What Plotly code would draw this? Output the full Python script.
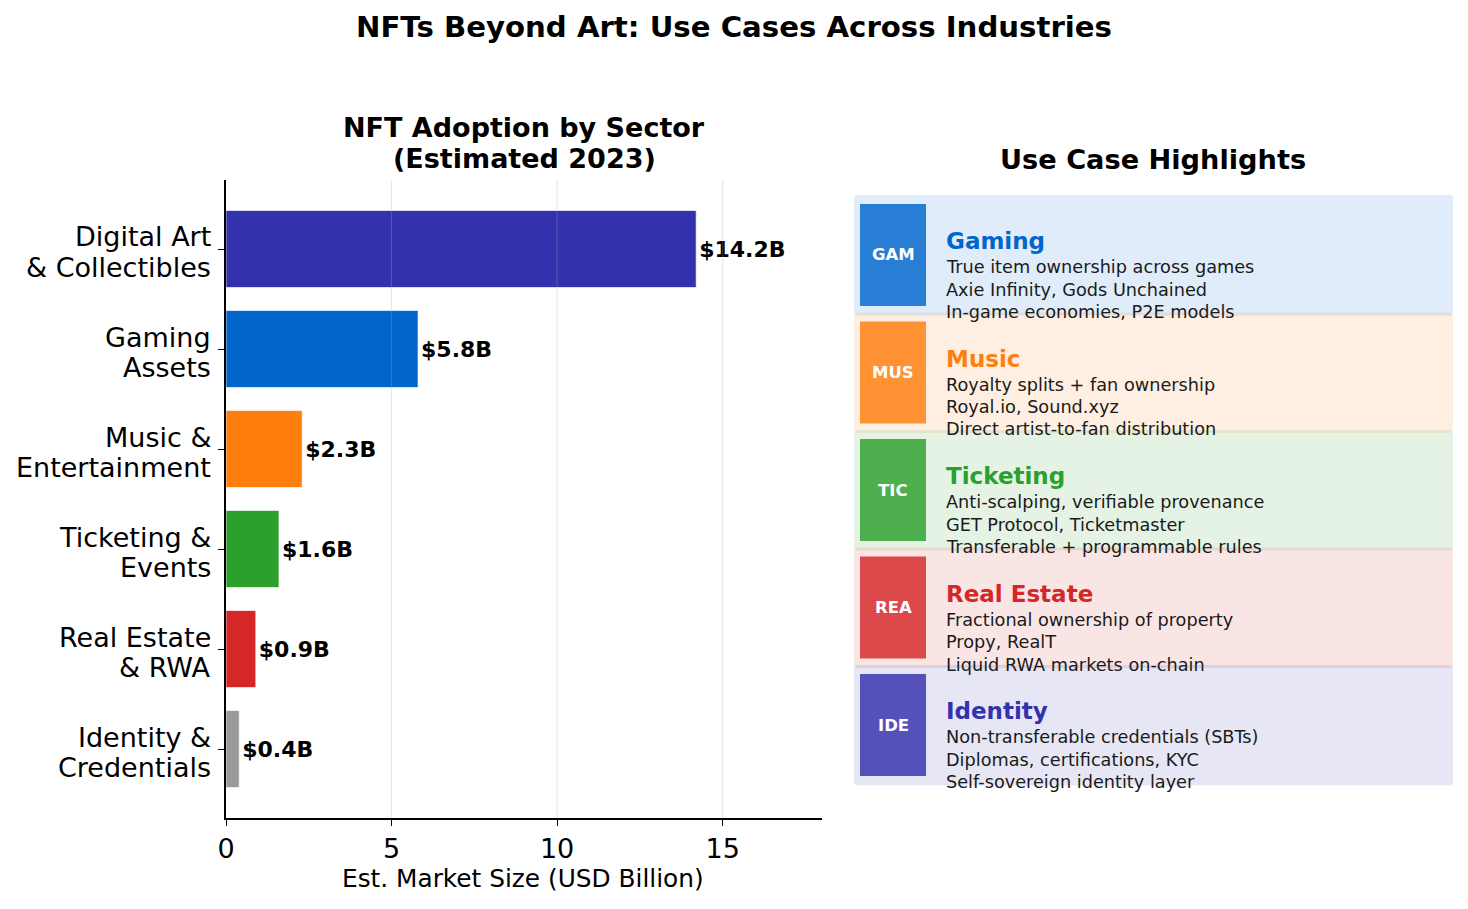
import plotly.graph_objects as go

W, H = 1468, 909

# ---------------- data ----------------
sectors = ["Digital Art<br>& Collectibles", "Gaming<br>Assets", "Music &<br>Entertainment",
           "Ticketing &<br>Events", "Real Estate<br>& RWA", "Identity &<br>Credentials"]
market_size = [14.2, 5.8, 2.3, 1.6, 0.9, 0.4]
bar_colors = ["#3431ad", "#0066cc", "#ff7f0e", "#2ca02c", "#d62728", "#999999"]
x_ticks = [0, 5, 10, 15]

use_names = ["Gaming", "Music", "Ticketing", "Real Estate", "Identity"]
use_codes = ["GAM", "MUS", "TIC", "REA", "IDE"]
use_colors = ["#0066cc", "#ff7f0e", "#2ca02c", "#d62728", "#3431ad"]
use_line1 = ["True item ownership across games", "Royalty splits + fan ownership",
             "Anti-scalping, verifiable provenance", "Fractional ownership of property",
             "Non-transferable credentials (SBTs)"]
use_line2 = ["Axie Infinity, Gods Unchained", "Royal.io, Sound.xyz",
             "GET Protocol, Ticketmaster", "Propy, RealT", "Diplomas, certifications, KYC"]
use_line3 = ["In-game economies, P2E models", "Direct artist-to-fan distribution",
             "Transferable + programmable rules", "Liquid RWA markets on-chain",
             "Self-sovereign identity layer"]

FONT = "DejaVu Sans"


def px(x):
    return x / W


def py(y):
    return 1 - y / H


def hex2rgb(hexcol):
    h = hexcol.lstrip("#")
    return int(h[0:2], 16), int(h[2:4], 16), int(h[4:6], 16)


def mix(hexcol, alpha, bg=(255, 255, 255)):
    return tuple(round(alpha * c + (1 - alpha) * d) for c, d in zip(hex2rgb(hexcol), bg))


def rgb(t):
    return "rgb(%d,%d,%d)" % t


def rrect_path(x0, y0, x1, y1, r):
    pts = [("M", [(x0 + r, y0)]), ("L", [(x1 - r, y0)]), ("Q", [(x1, y0), (x1, y0 + r)]),
           ("L", [(x1, y1 - r)]), ("Q", [(x1, y1), (x1 - r, y1)]),
           ("L", [(x0 + r, y1)]), ("Q", [(x0, y1), (x0, y1 - r)]),
           ("L", [(x0, y0 + r)]), ("Q", [(x0, y0), (x0 + r, y0)])]
    s = ""
    for cmd, ps in pts:
        s += cmd + " " + " ".join("%.6f,%.6f" % (px(a), py(b)) for a, b in ps) + " "
    return s + "Z"


fig = go.Figure()

fig.add_trace(go.Bar(
    x=market_size, y=sectors, orientation="h",
    marker=dict(color=bar_colors, line=dict(color="rgba(255,255,255,0.8)", width=0.8)),
    width=0.77,
    texttemplate="<b>$%{x:.1f}B</b>",
    textposition="outside",
    textfont=dict(family=FONT, size=22, color="black"),
    constraintext="none",
    cliponaxis=False,
    hoverinfo="skip",
))

shapes = []
# grid lines drawn over bars (matplotlib-like translucent grid)
for t in x_ticks[1:]:
    shapes.append(dict(type="line", xref="x", yref="paper", x0=t, x1=t,
                       y0=py(818), y1=py(180), layer="above",
                       line=dict(color="rgba(176,176,176,0.3)", width=1.1)))

annotations = []

# y tick labels (two lines each, tight matplotlib-like spacing)
for cat in sectors:
    first, second = cat.split("<br>")
    annotations.append(dict(text=first, x=px(213), y=cat, xref="paper", yref="y",
                            yshift=12, showarrow=False, xanchor="right", yanchor="middle",
                            font=dict(family=FONT, size=27, color="black")))
    annotations.append(dict(text=second, x=px(213), y=cat, xref="paper", yref="y",
                            yshift=-18, showarrow=False, xanchor="right", yanchor="middle",
                            font=dict(family=FONT, size=27, color="black")))

# titles
annotations.append(dict(text="<b>NFTs Beyond Art: Use Cases Across Industries</b>",
                        x=px(734), y=py(27), xref="paper", yref="paper", showarrow=False,
                        xanchor="center", yanchor="middle",
                        font=dict(family=FONT, size=29.2, color="black")))
annotations.append(dict(text="<b>NFT Adoption by Sector</b>",
                        x=px(524), y=py(128), xref="paper", yref="paper", showarrow=False,
                        xanchor="center", yanchor="middle",
                        font=dict(family=FONT, size=27, color="black")))
annotations.append(dict(text="<b>(Estimated 2023)</b>",
                        x=px(524), y=py(158), xref="paper", yref="paper", showarrow=False,
                        xanchor="center", yanchor="middle",
                        font=dict(family=FONT, size=27, color="black")))
annotations.append(dict(text="Est. Market Size (USD Billion)",
                        x=px(523), y=py(878), xref="paper", yref="paper", showarrow=False,
                        xanchor="center", yanchor="middle",
                        font=dict(family=FONT, size=24.8, color="black")))
annotations.append(dict(text="<b>Use Case Highlights</b>",
                        x=px(1153), y=py(159), xref="paper", yref="paper", showarrow=False,
                        xanchor="center", yanchor="middle",
                        font=dict(family=FONT, size=27.2, color="black")))

# right panel cards
top0, slot, box_h = 195, 117.5, 120.5
for i, name in enumerate(use_names):
    col = use_colors[i]
    top = top0 + slot * i
    r, g, b = hex2rgb(col)
    fill = mix(col, 0.12)
    shapes.append(dict(type="path", xref="paper", yref="paper",
                       path=rrect_path(854, top, 1453, top + box_h, 4),
                       fillcolor="rgba(%d,%d,%d,0.12)" % (r, g, b), line=dict(width=0),
                       layer="below"))
    shapes.append(dict(type="rect", xref="paper", yref="paper",
                       x0=px(860), x1=px(926), y0=py(top + 111), y1=py(top + 9),
                       fillcolor=rgb(mix(col, 0.82, fill)), line=dict(width=0),
                       layer="below"))
    annotations.append(dict(text="<b>%s</b>" % use_codes[i], x=px(893), y=py(top + 60),
                            xref="paper", yref="paper", showarrow=False,
                            xanchor="center", yanchor="middle",
                            font=dict(family=FONT, size=16.5, color="white")))
    annotations.append(dict(text="<b>%s</b>" % name, x=px(944), y=py(top + 46),
                            xref="paper", yref="paper", showarrow=False,
                            xanchor="left", yanchor="middle",
                            font=dict(family=FONT, size=23, color=col)))
    for k, line in enumerate([use_line1[i], use_line2[i], use_line3[i]]):
        annotations.append(dict(text=line, x=px(944), y=py(top + 72 + 22.5 * k),
                                xref="paper", yref="paper", showarrow=False,
                                xanchor="left", yanchor="middle",
                                font=dict(family=FONT, size=17.7, color="#1a1a1a")))

fig.update_layout(
    width=W, height=H,
    margin=dict(l=0, r=0, t=0, b=0, pad=0),
    paper_bgcolor="white", plot_bgcolor="white",
    showlegend=False,
    font=dict(family=FONT, color="black"),
    xaxis=dict(domain=[px(226), px(822)], range=[0, 18], tickvals=x_ticks,
               ticks="outside", ticklen=6, tickwidth=1.2, tickcolor="black",
               showline=True, linecolor="black", linewidth=1.5,
               showgrid=False, zeroline=False,
               tickfont=dict(family=FONT, size=27, color="black"),
               automargin=False, fixedrange=True),
    yaxis=dict(domain=[py(818), py(180)], type="category", categoryorder="array",
               categoryarray=sectors, range=[5.69, -0.69],
               ticks="outside", ticklen=6, tickwidth=1.2, tickcolor="black",
               showline=True, linecolor="black", linewidth=1.5,
               showticklabels=False,
               showgrid=False, zeroline=False,
               automargin=False, fixedrange=True),
    shapes=shapes,
    annotations=annotations,
)

fig.write_html("out.html", config={"displayModeBar": False},
               post_script="document.body.style.margin='0px';")
